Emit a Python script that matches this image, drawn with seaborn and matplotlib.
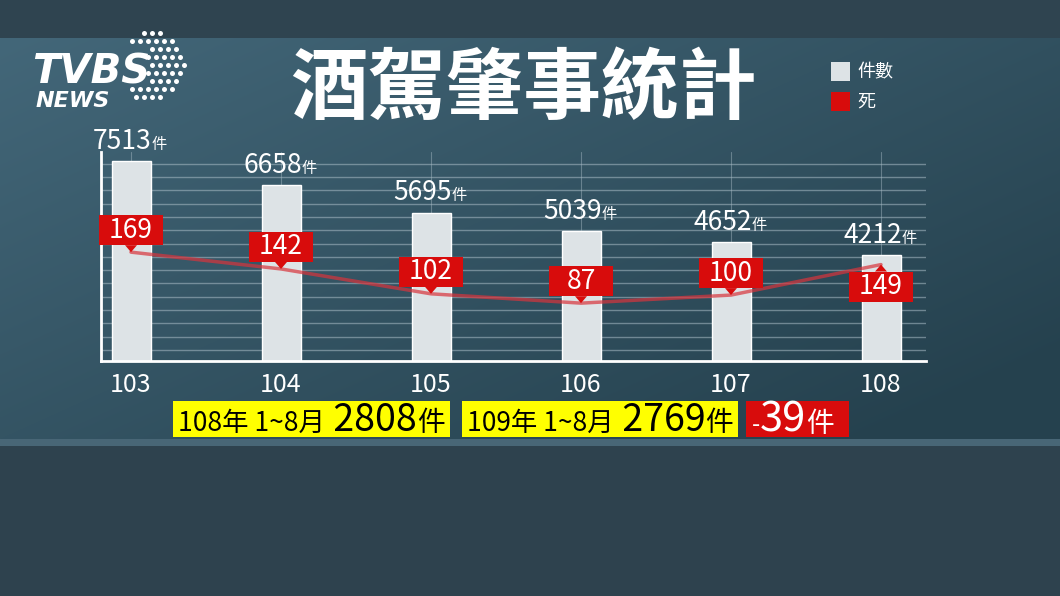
import numpy as np
import pandas as pd
import matplotlib.pyplot as plt
import seaborn as sns
from matplotlib.patches import Rectangle, Polygon
from matplotlib.offsetbox import DrawingArea, AnnotationBbox

# data
years = ['103', '104', '105', '106', '107', '108']
cases = [7513, 6658, 5695, 5039, 4652, 4212]
deaths = [169, 142, 102, 87, 100, 149]
legend_labels = ['件數', '死']
compare_labels = ['108年 1~8月', '109年 1~8月']
compare_values = [2808, 2769]
diff_value = -39
title = '酒駕肇事統計'

BAR_C = '#dde3e6'
RED = '#d80c0c'
YELLOW = '#ffff00'

sns.set_style('white')
plt.rcParams['font.family'] = ['Noto Sans CJK TC', 'DejaVu Sans']

W, H = 1060, 596
fig = plt.figure(figsize=(W / 100, H / 100), dpi=100)


def px(x0, y0, x1, y1):
    # pixel box (top-left origin) -> figure rect
    return [x0 / W, 1 - y1 / H, (x1 - x0) / W, (y1 - y0) / H]


# background, also used as a pixel canvas for the decorations
bg = fig.add_axes([0, 0, 1, 1])
bg.axis('off')
yy, xx = np.mgrid[0:H, 0:W]
t = np.clip(0.6 * xx / W + 0.5 * (yy - 38) / 400, 0, 1)[..., None]
light = np.array([0x43, 0x67, 0x79]) / 255
dark = np.array([0x25, 0x41, 0x4e]) / 255
img = light * (1 - t) + dark * t
img[:38] = np.array([0x2f, 0x44, 0x50]) / 255
img[439:446] = np.array([0x48, 0x66, 0x76]) / 255
img[446:] = np.array([0x2e, 0x42, 0x4e]) / 255
bg.imshow(img, aspect='auto', extent=(0, W, H, 0))
bg.set_xlim(0, W)
bg.set_ylim(H, 0)

# logo
for r, yd in enumerate(range(33, 101, 8)):
    off = 4 * (r % 2)
    for xd in np.arange(128 + off, 190, 8):
        inside = (xd - 150) ** 2 + (yd - 66) ** 2 <= 35 ** 2
        behind_text = xd < 146 and 44 < yd < 88
        if inside and not behind_text:
            bg.plot(xd, yd, 'o', ms=3.6, color='white', mec='none')
bg.text(32, 83, 'TVBS', fontsize=29, weight='bold', style='italic',
        family='DejaVu Sans', color='white', va='baseline')
bg.text(36, 107, 'NEWS', fontsize=16, weight='bold', style='italic',
        family='DejaVu Sans', color='white', va='baseline')

# title and legend
bg.text(523, 90, title, fontsize=56, weight='bold', ha='center', va='center', color='white')
for k, (lab, col) in enumerate(zip(legend_labels, [BAR_C, RED])):
    bg.add_patch(Rectangle((831, 62 + 30 * k), 19, 19, fc=col, ec='none'))
    bg.text(857, 72 + 30 * k, lab, fontsize=13, color='white', va='center')

# chart
ax = fig.add_axes(px(101, 152, 926, 361))
ax.patch.set_alpha(0)
df = pd.DataFrame({'year': years, 'cases': cases, 'deaths': deaths})
sns.barplot(data=df, x='year', y='cases', color=BAR_C, saturation=1, width=0.26, ax=ax)
ax.set_axisbelow(True)

ax2 = ax.twinx()
sns.lineplot(x=np.arange(len(deaths)), y=deaths, ax=ax2, color='#d8343c', lw=2.5, alpha=0.7, zorder=2)

ax.set_xlim(-0.2, 5.3)
ax.set_ylim(490, 7830)
ax2.set_ylim(-6, 330)
ax2.axis('off')

ax.set_yticks(np.arange(878, 7500, 467))
ax.tick_params(axis='y', length=0, labelleft=False)
ax.tick_params(axis='x', length=0, pad=8, labelsize=18, labelcolor='white')
ax.grid(axis='y', color='#a9bcc6', lw=1, alpha=0.55)
ax.grid(axis='x', color='#a9bcc6', lw=0.8, alpha=0.45)
ax.set_xlabel('')
ax.set_ylabel('')
for s in ['top', 'right']:
    ax.spines[s].set_visible(False)
for s in ['left', 'bottom']:
    ax.spines[s].set_color('white')
    ax.spines[s].set_linewidth(2)

# case labels above bars
for i, v in enumerate(cases):
    ax.annotate(f'{v}', xy=(i, v), xytext=(15, 9), textcoords='offset points',
                ha='right', va='baseline', fontsize=19, color='white')
    ax.annotate('件', xy=(i, v), xytext=(15, 9), textcoords='offset points',
                ha='left', va='baseline', fontsize=11, color='white')

# death labels in red callouts
bw, bh, th, tw = 45.4, 21.6, 5.0, 8.6
for i, v in enumerate(deaths):
    below = i == len(deaths) - 1
    da = DrawingArea(bw, bh + th, 0, 0, clip=False)
    if below:
        da.add_artist(Rectangle((0, 0), bw, bh, fc=RED, ec='none'))
        da.add_artist(Polygon([(bw / 2 - tw / 2, bh), (bw / 2 + tw / 2, bh), (bw / 2, bh + th)],
                              fc=RED, ec='none'))
        align, dy = (0.5, 1), -(th + bh / 2)
    else:
        da.add_artist(Rectangle((0, th), bw, bh, fc=RED, ec='none'))
        da.add_artist(Polygon([(bw / 2 - tw / 2, th), (bw / 2 + tw / 2, th), (bw / 2, 0)],
                              fc=RED, ec='none'))
        align, dy = (0.5, 0), th + bh / 2
    ab = AnnotationBbox(da, (i, v), xycoords='data', box_alignment=align,
                        frameon=False, pad=0, zorder=4)
    ax2.add_artist(ab)
    ax2.annotate(str(v), (i, v), xytext=(0, dy), textcoords='offset points',
                 ha='center', va='center', fontsize=19, color='white', zorder=5)


def text_run(x, y, parts, color):
    prev = None
    for s, size in parts:
        if prev is None:
            prev = bg.text(x, y, s, fontsize=size, color=color, va='baseline', ha='left')
        else:
            prev = bg.annotate(s, xy=(1, y), xycoords=(prev, 'data'), fontsize=size,
                               color=color, va='baseline', ha='left')


# comparison boxes
for (x0, x1), lab, val in zip([(173, 450), (462, 738)], compare_labels, compare_values):
    bg.add_patch(Rectangle((x0, 401), x1 - x0, 36, fc=YELLOW, ec='none'))
    text_run(x0 + 5, 431, [(lab, 19), (f' {val}', 27), ('件', 20)], 'black')
bg.add_patch(Rectangle((746, 401), 103, 36, fc=RED, ec='none'))
sign = '-' if diff_value < 0 else '+'
text_run(752, 432, [(sign, 17), (f'{abs(diff_value)}', 30), ('件', 20)], 'white')

fig.savefig('out.png', dpi=100)
